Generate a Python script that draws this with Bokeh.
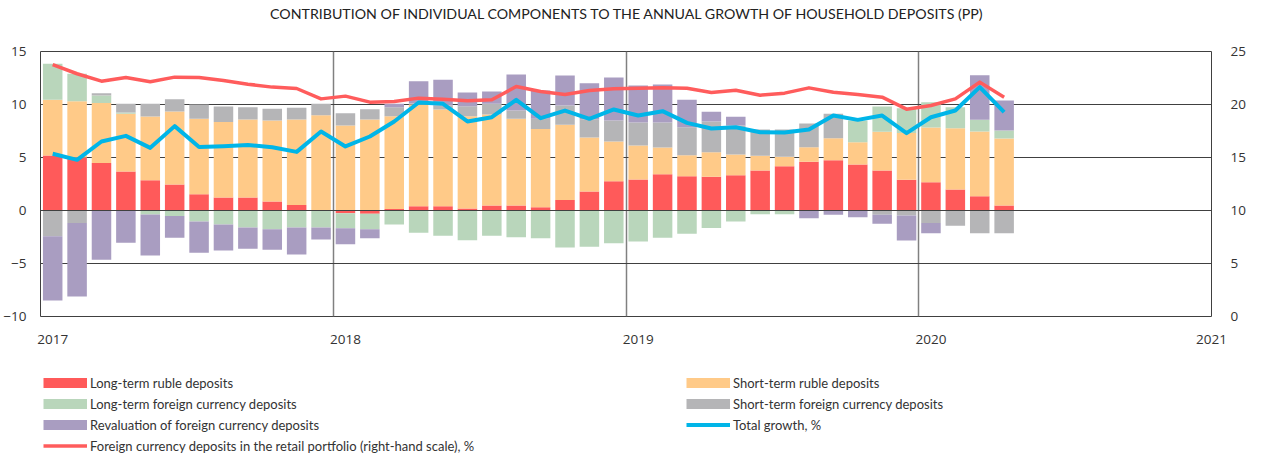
from bokeh.plotting import figure
from bokeh.layouts import column
from bokeh.models import Range1d, LinearAxis, FixedTicker, Legend, LegendItem, Span
from bokeh.core.properties import value
from bokeh.embed import file_html
from bokeh.resources import INLINE

title = "CONTRIBUTION OF INDIVIDUAL COMPONENTS TO THE ANNUAL GROWTH OF HOUSEHOLD DEPOSITS (PP)"

# 40 months: Jan 2017 .. Apr 2020
months = list(range(40))
year_ticks = [0.5, 12.5, 24.5, 36.5, 48]
year_labels = ["2017", "2018", "2019", "2020", "2021"]
left_ticks = [-10, -5, 0, 5, 10, 15]
right_ticks = [0, 5, 10, 15, 20, 25]

lt_rub = [5.19, 5.0, 4.47, 3.68, 2.86, 2.45, 1.54, 1.23, 1.23, 0.85, 0.53, 0.05,
          -0.25, -0.31, 0.15, 0.4, 0.4, 0.2, 0.47, 0.47, 0.31, 1.0, 1.79, 2.77,
          2.92, 3.43, 3.24, 3.18, 3.33, 3.77, 4.18, 4.59, 4.75, 4.34, 3.77, 2.89,
          2.67, 1.98, 1.35, 0.47]
st_rub = [5.25, 5.31, 5.66, 5.44, 6.01, 6.89, 7.11, 7.13, 7.35, 7.64, 8.05, 8.94,
          8.02, 8.58, 8.75, 9.6, 9.13, 8.7, 8.58, 8.18, 7.37, 7.1, 5.1, 3.74,
          3.21, 2.51, 1.98, 2.32, 1.95, 1.39, 0.88, 1.38, 2.07, 2.11, 3.65, 4.41,
          5.16, 5.79, 6.1, 6.32]
lt_fx = [3.4, 2.59, 0.72, 0.13, -0.38, -0.53, -1.04, -1.32, -1.6, -1.76, -1.6, -1.6,
         -1.42, -1.45, -1.32, -2.1, -2.39, -2.8, -2.39, -2.52, -2.61, -3.49, -3.43, -3.08,
         -2.92, -2.58, -2.2, -1.64, -1.04, -0.35, -0.35, 0.0, 0.0, 2.04, 2.39, 2.35,
         2.39, 1.98, 1.1, 0.76]
st_fx = [-2.42, -1.19, 0.22, 0.81, 1.19, 1.16, 1.35, 1.45, 1.17, 1.1, 1.11, 1.07,
         1.16, 0.98, 0.85, 0.1, 0.37, 0.94, 1.01, 0.78, 0.97, 1.81, 1.73, 1.98,
         2.17, 2.36, 2.64, 2.9, 2.74, 2.48, 2.58, 2.24, 2.3, 0.0, -0.41, -0.47,
         -1.19, -1.45, -2.14, -2.14]
reval = [-6.07, -6.92, -4.65, -3.05, -3.87, -2.05, -2.95, -2.45, -2.02, -1.95, -2.55, -1.14,
         -1.51, -0.85, 0.31, 2.1, 2.43, 1.29, 1.16, 3.4, 2.67, 2.83, 3.39, 4.06,
         3.49, 3.59, 2.58, 0.91, 0.82, 0.0, 0.0, -0.72, -0.41, -0.63, -0.85, -2.36,
         -0.95, 0.0, 4.22, 2.83]
total_growth = [5.35, 4.78, 6.51, 7.04, 5.91, 7.96, 6.0, 6.07, 6.19, 5.97, 5.53, 7.45,
                6.04, 6.98, 8.4, 10.19, 10.06, 8.4, 8.8, 10.44, 8.71, 9.43, 8.65, 9.53,
                8.96, 9.37, 8.27, 7.74, 7.86, 7.39, 7.36, 7.64, 8.96, 8.55, 8.96, 7.3,
                8.8, 9.43, 11.64, 9.28]
fx_share = [23.77, 22.9, 22.2, 22.55, 22.14, 22.58, 22.55, 22.26, 21.92, 21.64, 21.51, 20.53,
            20.79, 20.22, 20.28, 20.6, 20.5, 20.35, 20.44, 21.7, 21.23, 20.94, 21.32, 21.48,
            21.54, 21.57, 21.54, 21.13, 21.35, 20.88, 21.07, 21.57, 21.16, 20.94, 20.69, 19.56,
            19.91, 20.53, 22.11, 20.69]

series = [
    ("Long-term ruble deposits", lt_rub, "#FF5A5A"),
    ("Short-term ruble deposits", st_rub, "#FFCA88"),
    ("Long-term foreign currency deposits", lt_fx, "#B9D6BB"),
    ("Short-term foreign currency deposits", st_fx, "#B5B5B7"),
    ("Revaluation of foreign currency deposits", reval, "#A99DC1"),
]
share_label = "Foreign currency deposits in the retail portfolio (right-hand scale), %"
total_label = "Total growth, %"
BLUE = "#00B5E8"
RED_LINE = "#FF5C5C"

x = [m + 0.5 for m in months]

NOBORDER = dict(min_border=0, min_border_left=0, min_border_right=0,
                min_border_top=0, min_border_bottom=0)

# ---------- header (title) ----------
head = figure(width=1248, height=26, output_backend="svg", toolbar_location=None,
              x_range=Range1d(0, 1), y_range=Range1d(0, 1), x_axis_type=None, y_axis_type=None,
              outline_line_color=None, **NOBORDER)
head.grid.visible = False
head.text(x=[0.5015], y=[0.5], text=[title], text_align="center", text_baseline="middle",
          text_font=value("Lato"), text_font_size="14.2px", text_color="#222222")

# ---------- main chart ----------
p = figure(width=1248, height=334, output_backend="svg", toolbar_location=None,
           x_range=Range1d(0, 48), y_range=Range1d(-10, 15),
           min_border_left=31, min_border_right=29, min_border_top=25, min_border_bottom=44)
p.extra_y_ranges = {"right": Range1d(0, 25)}

p.outline_line_color = "#404040"
p.outline_line_width = 1

p.ygrid.ticker = FixedTicker(ticks=[-5, 0, 5, 10])
p.ygrid.grid_line_color = "#404040"
p.ygrid.grid_line_width = 1
p.xgrid.ticker = FixedTicker(ticks=[12, 24, 36])
p.xgrid.grid_line_color = "#808080"
p.xgrid.grid_line_width = 1.5

ax = p.xaxis[0]
ax.ticker = FixedTicker(ticks=year_ticks)
ax.major_label_overrides = {t: l for t, l in zip(year_ticks, year_labels)}
ay = p.yaxis[0]
ay.ticker = FixedTicker(ticks=left_ticks)
ar = LinearAxis(y_range_name="right", ticker=FixedTicker(ticks=right_ticks))
p.add_layout(ar, "right")
for a, so in ((ax, 12), (ay, 8), (ar, 13)):
    a.axis_line_color = None
    a.major_tick_line_color = None
    a.minor_tick_line_color = None
    a.major_label_text_font = "Open Sans"
    a.major_label_text_font_size = "13.5px"
    a.major_label_text_color = "#333333"
    a.major_label_standoff = so

pos_base = [0.0] * len(months)
neg_base = [0.0] * len(months)
for name, vals, col in series:
    pos_top = [b + max(v, 0) for b, v in zip(pos_base, vals)]
    neg_bot = [b + min(v, 0) for b, v in zip(neg_base, vals)]
    p.vbar(x=x, bottom=pos_base, top=pos_top, width=0.8, fill_color=col, line_color=None)
    p.vbar(x=x, bottom=neg_bot, top=neg_base, width=0.8, fill_color=col, line_color=None)
    pos_base, neg_base = pos_top, neg_bot

p.add_layout(Span(location=0, dimension="width", line_color="#404040", line_width=1))

p.line(x, total_growth, line_color=BLUE, line_width=4, line_join="round")
p.line(x, fx_share, y_range_name="right", line_color=RED_LINE, line_width=3.5, line_join="round")

# ---------- legend panel ----------
leg = figure(width=1248, height=96, output_backend="svg", toolbar_location=None,
             x_range=Range1d(0, 1), y_range=Range1d(0, 1), x_axis_type=None, y_axis_type=None,
             outline_line_color=None, **NOBORDER)
leg.grid.visible = False
# legend-key renderers: kept outside the visible range, only their styles are used
off = [-5, -4]
swatch = {name: leg.line(x=off, y=off, line_width=10, line_color=col) for name, _, col in series}
r_share = leg.line(x=off, y=off, line_width=3.5, line_color=RED_LINE)
r_total = leg.line(x=off, y=off, line_width=4, line_color=BLUE)

common = dict(orientation="vertical", glyph_width=44, glyph_height=21, label_height=21,
              label_standoff=3, spacing=0, padding=0, margin=0, border_line_color=None,
              background_fill_alpha=0, label_text_font="Lato", label_text_font_size="13px",
              label_text_color="#333333")
left_leg = Legend(items=[
    LegendItem(label=series[0][0], renderers=[swatch[series[0][0]]]),
    LegendItem(label=series[2][0], renderers=[swatch[series[2][0]]]),
    LegendItem(label=series[4][0], renderers=[swatch[series[4][0]]]),
    LegendItem(label=share_label, renderers=[r_share]),
], location=(3, 0), **common)
right_leg = Legend(items=[
    LegendItem(label=series[1][0], renderers=[swatch[series[1][0]]]),
    LegendItem(label=series[3][0], renderers=[swatch[series[3][0]]]),
    LegendItem(label=total_label, renderers=[r_total]),
], location=(646, 21), **common)
leg.add_layout(left_leg, "center")
leg.add_layout(right_leg, "center")

layout = column(head, p, leg, spacing=0)
open("out.html", "w").write(file_html(layout, INLINE))
